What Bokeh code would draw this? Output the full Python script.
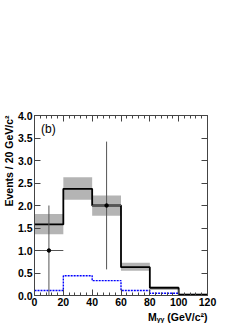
import numpy as np
from bokeh.plotting import figure
from bokeh.models import Range1d, LinearAxis, Label, FixedTicker, Title
from bokeh.embed import file_html
from bokeh.resources import INLINE

# --- data ---
edges = [0, 20, 40, 60, 80, 100, 120]
total = [1.58, 2.37, 2.00, 0.63, 0.17, 0.02]
band_lo = [1.36, 2.13, 1.77, 0.55, 0.12, 0.00]
band_hi = [1.81, 2.63, 2.22, 0.73, 0.21, 0.04]
bkg = [0.11, 0.44, 0.33, 0.11, 0.05, 0.02]
data_x = [10, 50]
data_y = [1.0, 2.0]
data_lo = [0.0, 0.58]
data_hi = [2.0, 3.42]
data_xerr = [10, 10]
x_ticks = [0, 20, 40, 60, 80, 100, 120]
y_ticks = [0.0, 0.5, 1.0, 1.5, 2.0, 2.5, 3.0, 3.5, 4.0]

FONT = "Liberation Sans"

p = figure(width=249, height=323, output_backend="svg", toolbar_location=None,
           x_range=Range1d(0, 120), y_range=Range1d(0, 4.0),
           min_border_left=30, min_border_right=42, min_border_top=115,
           min_border_bottom=28, x_axis_location=None, y_axis_location=None)
p.grid.visible = False
p.outline_line_color = None
p.background_fill_color = "white"
p.border_fill_color = "white"

AX = "#444444"

def style(ax, labels, ticks):
    ax.axis_line_color = AX
    ax.major_tick_line_color = AX
    ax.minor_tick_line_color = AX
    ax.major_tick_out = 0
    ax.minor_tick_out = 0
    ax.major_label_standoff = 2
    ax.major_label_text_font = FONT
    ax.major_label_text_font_style = "bold"
    ax.major_label_text_font_size = "10.5px"
    ax.major_label_text_color = "black"
    if not labels:
        ax.major_label_overrides = {t: "" for t in ticks}
        ax.major_label_standoff = 0

minor_x = list(range(0, 121, 4))
bx = LinearAxis(ticker=FixedTicker(ticks=x_ticks, minor_ticks=minor_x))
bx.major_tick_in = 6; bx.minor_tick_in = 3
style(bx, True, x_ticks)
bx.major_label_overrides = {t: str(t) for t in x_ticks}
tx = LinearAxis(ticker=FixedTicker(ticks=x_ticks, minor_ticks=minor_x))
tx.major_tick_in = 6; tx.minor_tick_in = 3
style(tx, False, x_ticks)
ly = LinearAxis(ticker=FixedTicker(ticks=y_ticks, minor_ticks=[]))
ly.major_tick_in = 6
style(ly, True, y_ticks)
ly.major_label_overrides = {t: f"{t:.1f}" for t in y_ticks}
ry = LinearAxis(ticker=FixedTicker(ticks=y_ticks, minor_ticks=[]))
ry.major_tick_in = 6
style(ry, False, y_ticks)
p.add_layout(bx, "below")
p.add_layout(tx, "above")
p.add_layout(ly, "left")
p.add_layout(ry, "right")

# axis titles
ytitle = Title(text="Events / 20 GeV/c²", align="right", text_font=FONT,
               text_font_style="bold", text_font_size="10.5px", standoff=0,
               text_color="black")
p.add_layout(ytitle, "left")
xtitle = Title(text="Mᵧᵧ (GeV/c²)", align="right", text_font=FONT,
               text_font_style="bold", text_font_size="10.5px", standoff=0,
               text_color="black")
p.add_layout(xtitle, "below")

# uncertainty band
p.quad(left=edges[:-1], right=edges[1:], bottom=band_lo, top=band_hi,
       fill_color="#b4b4b4", line_color=None)

def steps(vals):
    xs, ys = [], []
    for i, v in enumerate(vals):
        xs += [edges[i], edges[i + 1]]
        ys += [v, v]
    return xs, ys

bxs, bys = steps(bkg)
p.line(bxs, bys, line_color="blue", line_width=1.4, line_dash="2 1")
sxs, sys_ = steps(total)
p.line(sxs, sys_, line_color="black", line_width=1.8)

# data points with error bars
p.segment(x0=data_x, x1=data_x, y0=data_lo, y1=data_hi, line_color="#555555", line_width=1)
p.segment(x0=[x - e for x, e in zip(data_x, data_xerr)], x1=[x + e for x, e in zip(data_x, data_xerr)],
          y0=data_y, y1=data_y, line_color="#555555", line_width=1)
p.scatter(data_x, data_y, size=3.5, color="black")

p.add_layout(Label(x=4.5, y=3.69, text="(b)", text_font=FONT, text_font_size="12px",
                   text_baseline="middle", text_align="left", text_color="black"))

open("out.html", "w").write(file_html(p, INLINE))
